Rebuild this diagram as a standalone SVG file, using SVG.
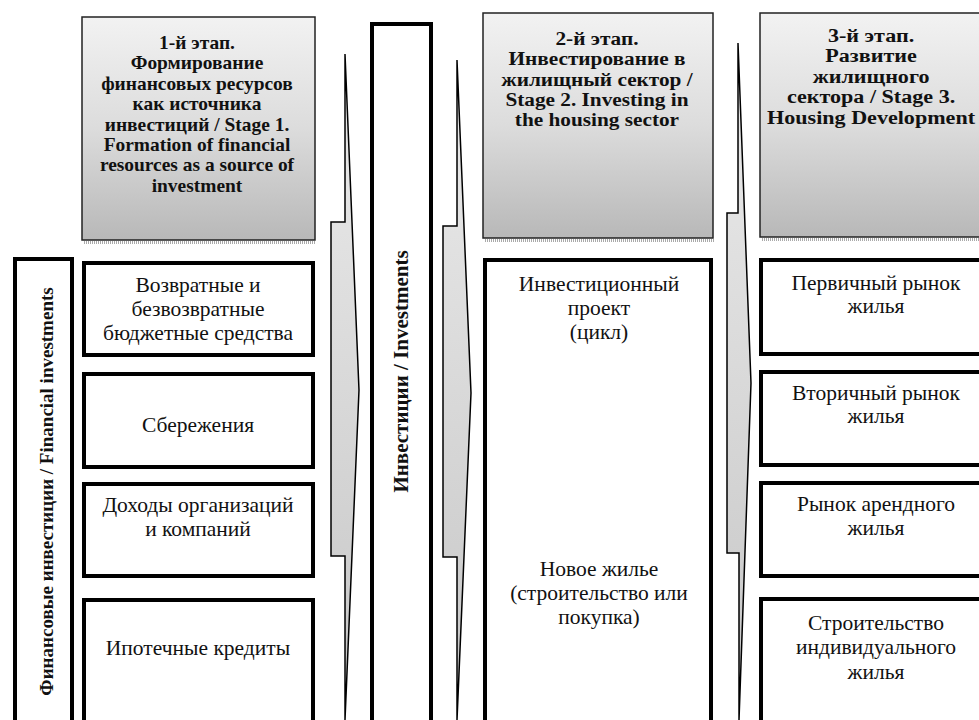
<svg xmlns="http://www.w3.org/2000/svg" width="979" height="720" viewBox="0 0 979 720">
<defs>
<linearGradient id="hdr" x1="0" y1="0" x2="0" y2="1">
<stop offset="0" stop-color="#f2f2f2"/>
<stop offset="0.5" stop-color="#dcdcdc"/>
<stop offset="1" stop-color="#b8b8b8"/>
</linearGradient>
<linearGradient id="arr" x1="0" y1="0" x2="0" y2="1">
<stop offset="0" stop-color="#ececec"/>
<stop offset="1" stop-color="#c6c6c6"/>
</linearGradient>
<style>
.hdr{fill:url(#hdr);stroke:#222;stroke-width:1.5}
.shadow{stroke:#aaa;stroke-width:3;stroke-dasharray:1 1}
.box{fill:#fff;stroke:#000;stroke-width:4}
.arrow{fill:url(#arr);stroke:#000;stroke-width:1.5;stroke-linejoin:miter}
.ht{font-family:"Liberation Serif","Times New Roman",serif;font-weight:bold;fill:#111;text-anchor:middle}
.h1{font-size:18px}
.h2{font-size:19px}
.h3{font-size:19.5px}
.bt{font-family:"Liberation Serif","Times New Roman",serif;font-size:21.5px;fill:#111;text-anchor:middle}
.vt{font-family:"Liberation Serif","Times New Roman",serif;font-weight:bold;fill:#111;text-anchor:middle}
</style>
</defs>
<rect width="979" height="720" fill="#fff"/>

<g id="connectors">
<polygon class="arrow" points="345,54 359,390 345,720 345,556 331,556 331,222 345,222"/>
<polygon class="arrow" points="457,60 471,393 457,720 457,557 443,557 443,226 457,226"/>
<polygon class="arrow" points="738,43 751,383 739,720 739,553 727,553 727,213 738,213"/>
</g>

<g id="stage1-header">
<line class="shadow" x1="84" y1="242.5" x2="316" y2="242.5"/>
<rect class="hdr" x="82" y="17" width="233" height="223"/>
<g class="ht h1" transform="scale(1.08,1)">
<text x="182.4" y="49">1-й этап.</text>
<text x="182.4" y="69.5">Формирование</text>
<text x="182.4" y="90">финансовых ресурсов</text>
<text x="182.4" y="110.5">как источника</text>
<text x="182.4" y="131">инвестиций / Stage 1.</text>
<text x="182.4" y="151">Formation of financial</text>
<text x="182.4" y="171.5">resources as a source of</text>
<text x="182.4" y="192">investment</text>
</g>
</g>

<g id="stage2-header">
<line class="shadow" x1="485" y1="240.5" x2="714" y2="240.5"/>
<rect class="hdr" x="483" y="13" width="230" height="225"/>
<g class="ht h2" transform="scale(1.12,1)">
<text x="533" y="45">2-й этап.</text>
<text x="533" y="65.5">Инвестирование в</text>
<text x="533" y="86">жилищный сектор /</text>
<text x="533" y="106">Stage 2. Investing in</text>
<text x="533" y="126">the housing sector</text>
</g>
</g>

<g id="stage3-header">
<line class="shadow" x1="762" y1="239.5" x2="985" y2="239.5"/>
<rect class="hdr" x="760" y="13" width="230" height="224"/>
<g class="ht h3" transform="scale(1.133,1)">
<text x="768.8" y="42">3-й этап.</text>
<text x="768.8" y="62.5">Развитие</text>
<text x="768.8" y="83">жилищного</text>
<text x="768.8" y="103.5">сектора / Stage 3.</text>
<text x="768.8" y="124">Housing Development</text>
</g>
</g>

<g id="financial-investments">
<rect class="box" x="15" y="259" width="57" height="480"/>
<text class="vt" font-size="19" transform="translate(53,491.5) rotate(-90)">Финансовые инвестиции / Financial investments</text>
</g>

<g id="budget-funds">
<rect class="box" x="84" y="263" width="229" height="92"/>
<text class="bt" x="198" y="292">Возвратные и</text>
<text class="bt" x="198" y="316">безвозвратные</text>
<text class="bt" x="198" y="340">бюджетные средства</text>
</g>

<g id="savings">
<rect class="box" x="84" y="374" width="229" height="93"/>
<text class="bt" x="198" y="432">Сбережения</text>
</g>

<g id="company-income">
<rect class="box" x="84" y="484" width="229" height="92"/>
<text class="bt" x="198" y="512">Доходы организаций</text>
<text class="bt" x="198" y="536">и компаний</text>
</g>

<g id="mortgage">
<rect class="box" x="84" y="600" width="229" height="140"/>
<text class="bt" x="198" y="655">Ипотечные кредиты</text>
</g>

<g id="investments">
<rect class="box" x="372" y="24" width="59" height="720"/>
<text class="vt" font-size="21" transform="translate(408,371.5) rotate(-90)">Инвестиции / Investments</text>
</g>

<g id="investment-project">
<rect class="box" x="485" y="260" width="226" height="480"/>
<text class="bt" x="599" y="291">Инвестиционный</text>
<text class="bt" x="599" y="315">проект</text>
<text class="bt" x="599" y="339">(цикл)</text>
<text class="bt" x="599" y="576">Новое жилье</text>
<text class="bt" x="599" y="600">(строительство или</text>
<text class="bt" x="599" y="624">покупка)</text>
</g>

<g id="primary-market">
<rect class="box" x="761" y="260" width="230" height="94"/>
<text class="bt" x="876" y="290">Первичный рынок</text>
<text class="bt" x="876" y="313">жилья</text>
</g>

<g id="secondary-market">
<rect class="box" x="761" y="372" width="230" height="93"/>
<text class="bt" x="876" y="400">Вторичный рынок</text>
<text class="bt" x="876" y="423">жилья</text>
</g>

<g id="rental-market">
<rect class="box" x="761" y="483" width="230" height="93"/>
<text class="bt" x="876" y="511">Рынок арендного</text>
<text class="bt" x="876" y="535">жилья</text>
</g>

<g id="individual-housing">
<rect class="box" x="761" y="599" width="230" height="140"/>
<text class="bt" x="876" y="630">Строительство</text>
<text class="bt" x="876" y="654">индивидуального</text>
<text class="bt" x="876" y="679">жилья</text>
</g>
</svg>
